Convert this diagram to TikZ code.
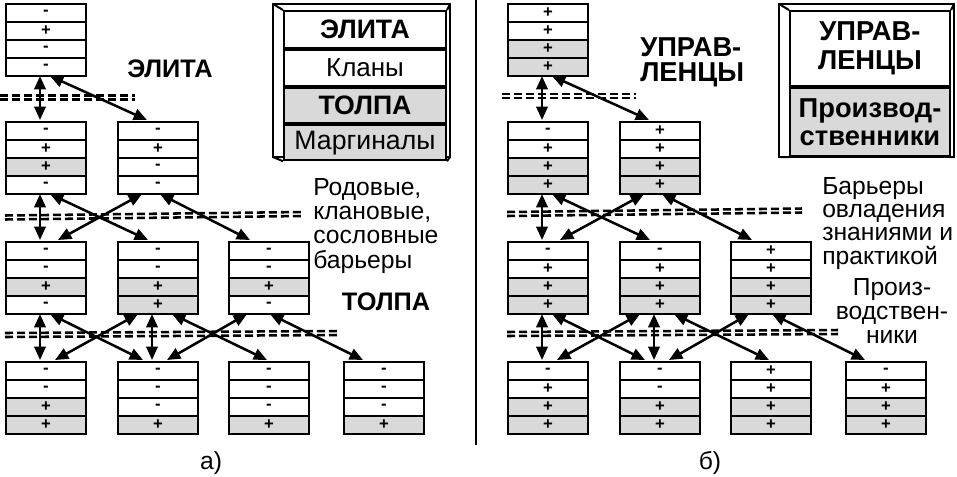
\documentclass[tikz,border=0pt]{standalone}
\usepackage{fontspec}
\setmainfont{Liberation Sans}
\usetikzlibrary{arrows.meta,calc}
\colorlet{cg}{black!15}
\colorlet{cw}{white}
\tikzset{
  cell/.style={draw, line width=1.5pt, minimum width=60pt, minimum height=13.5pt, inner sep=0pt, font=\fontsize{12.5}{12.5}\selectfont\bfseries},
  stackbox/.style={minimum width=60pt, minimum height=54pt, inner sep=0pt, outer sep=0pt},
  link/.style={line width=1.9pt, {Triangle[length=10pt,width=8.5pt]}-{Triangle[length=10pt,width=8.5pt]}},
  barrier/.style={line width=1.9pt, dash pattern=on 6pt off 3pt},
  bigbold/.style={font=\fontsize{19}{19}\selectfont\bfseries, inner sep=0pt},
  plaintext/.style={font=\fontsize{18.5}{18.5}\selectfont, inner sep=0pt},
  legrow/.style={minimum width=121.5pt, inner sep=0pt, anchor=north west, draw, line width=1.5pt},
  frameout/.style={line width=1.9pt},
}
\newcommand\mystack[4]{%
  \node[stackbox, anchor=north west] (#1) at (#2,#3) {};
  \foreach \f/\s [count=\i] in {#4} {
    \node[cell, fill=\f, anchor=north west] (#1-\i) at ($(#1.north west)+(0,{(\i-1)*18})$) {\s};
  }
}
\newcommand\linkarr[4]{\draw[link] ($(#1.south west)+(#2,1)$) -- ($(#3.north west)+(#4,-1)$);}
\newcommand\arrowset[1]{%
  \linkarr{#100}{35}{#110}{35}
  \linkarr{#100}{45}{#111}{30}
  \linkarr{#110}{35}{#120}{35}
  \linkarr{#110}{45}{#121}{31}
  \linkarr{#111}{25}{#120}{53}
  \linkarr{#111}{43}{#122}{22}
  \linkarr{#120}{35}{#130}{35}
  \linkarr{#120}{45}{#131}{26}
  \linkarr{#121}{21}{#130}{50}
  \linkarr{#121}{35}{#131}{35}
  \linkarr{#121}{55}{#132}{39}
  \linkarr{#122}{19}{#131}{50}
  \linkarr{#122}{42}{#133}{20}
}
\begin{document}
\begin{tikzpicture}[x=0.75pt,y=-0.75pt]
\useasboundingbox (0,0) rectangle (957,476);
% barriers
\draw[barrier] (0,95.5) -- (135,95.5);
\draw[barrier] (0,99.5) -- (135,99.5);
\draw[barrier] (5,215.5) -- (303,212);
\draw[barrier] (5,219.5) -- (303,216);
\draw[barrier] (5,333) -- (338,331);
\draw[barrier] (5,337) -- (338,335);
\draw[barrier] (502,94) -- (636,94);
\draw[barrier] (502,98) -- (636,98);
\draw[barrier] (507,212) -- (802,208.5);
\draw[barrier] (507,216) -- (802,212.5);
\draw[barrier] (507,332) -- (838,330);
\draw[barrier] (507,336) -- (838,334);
% left stacks
\mystack{L00}{5}{3}{cw/-,cw/+,cw/-,cw/-}
\mystack{L10}{5}{121}{cw/-,cw/+,cg/+,cw/-}
\mystack{L11}{117}{121}{cw/-,cw/+,cw/-,cw/-}
\mystack{L20}{5}{241}{cw/-,cw/-,cg/+,cw/-}
\mystack{L21}{117}{241}{cw/-,cw/-,cg/+,cg/+}
\mystack{L22}{228}{241}{cw/-,cw/-,cg/+,cw/-}
\mystack{L30}{5}{361}{cw/-,cw/-,cg/+,cg/+}
\mystack{L31}{117}{361}{cw/-,cw/-,cw/-,cg/+}
\mystack{L32}{228}{361}{cw/-,cw/-,cw/-,cg/+}
\mystack{L33}{343}{361}{cw/-,cw/-,cw/-,cg/+}
% right stacks
\mystack{R00}{507}{3}{cw/+,cw/+,cg/+,cg/+}
\mystack{R10}{507}{121}{cw/-,cw/+,cg/+,cg/+}
\mystack{R11}{619}{121}{cw/+,cw/+,cg/+,cg/+}
\mystack{R20}{507}{241}{cw/-,cw/+,cg/+,cg/+}
\mystack{R21}{619}{241}{cw/-,cw/+,cg/+,cg/+}
\mystack{R22}{730}{241}{cw/+,cw/+,cg/+,cg/+}
\mystack{R30}{507}{361}{cw/-,cw/+,cg/+,cg/+}
\mystack{R31}{619}{361}{cw/-,cw/-,cg/+,cg/+}
\mystack{R32}{730}{361}{cw/+,cw/+,cg/+,cg/+}
\mystack{R33}{845}{361}{cw/-,cw/+,cg/+,cg/+}
% arrows
\arrowset{L}
\arrowset{R}
% divider
\draw[line width=1.8pt] (476,0) -- (476,445);
% left legend
\draw[frameout] (273,4) rectangle (450,157);
\node[legrow, fill=white, minimum height=27.4pt, bigbold, font=\fontsize{20}{20}\selectfont\bfseries] (lg1) at (283,10) {ЭЛИТА};
\node[legrow, fill=white, minimum height=27.4pt, plaintext, font=\fontsize{19.5}{19.5}\selectfont, anchor=north] (lg2) at (lg1.south) {Кланы};
\node[legrow, fill=cg, minimum height=26.4pt, bigbold, font=\fontsize{20}{20}\selectfont\bfseries, anchor=north] (lg3) at (lg2.south) {ТОЛПА};
\node[legrow, fill=cg, minimum height=26.2pt, plaintext, font=\fontsize{20}{20}\selectfont, anchor=north] (lg4) at (lg3.south) {Маргиналы};
\draw[line width=1.5pt] (273,4) -- (lg1.north west) (450,4) -- (lg1.north east)
  (273,157) -- (lg4.south west) (450,157) -- (lg4.south east);
% right legend
\draw[frameout] (779,4) rectangle (954,157);
\node[legrow, fill=white, minimum height=56.3pt, align=center, minimum width=120pt, font=\fontsize{20.5}{20.5}\selectfont\bfseries] (rg1) at (789,10) {УПРАВ-\\[1pt]ЛЕНЦЫ};
\node[legrow, fill=cg, minimum height=51pt, align=center, minimum width=120pt, font=\fontsize{20.5}{20.5}\selectfont\bfseries, anchor=north] (rg2) at (rg1.south) {Производ-\\[0pt]ственники};
\draw[line width=1.5pt] (779,4) -- (rg1.north west) (954,4) -- (rg1.north east)
  (779,157) -- (rg2.south west) (954,157) -- (rg2.south east);
% labels
\node[bigbold] (elite) at (170,69) {ЭЛИТА};
\node[bigbold] (crowd) at (386,302) {ТОЛПА};
\node[plaintext, align=left, anchor=north west, font=\fontsize{18.5}{18.2}\selectfont] (barL) at (313,178) {Родовые,\\клановые,\\сословные\\барьеры};
\node[bigbold, align=left, anchor=north west, font=\fontsize{20.5}{19}\selectfont\bfseries] (mgr) at (640,37) {УПРАВ-\\ЛЕНЦЫ};
\node[plaintext, align=left, anchor=north west, font=\fontsize{18.5}{17.5}\selectfont] (barR) at (822,177) {Барьеры\\овладения\\знаниями и\\практикой};
\node[plaintext, align=center, anchor=north, font=\fontsize{18.5}{18.2}\selectfont] (prod) at (892,278) {Произ-\\водствен-\\ники};
\node[plaintext] (capa) at (211,463) {а)};
\node[plaintext] (capb) at (710,463) {б)};
\end{tikzpicture}
\end{document}
